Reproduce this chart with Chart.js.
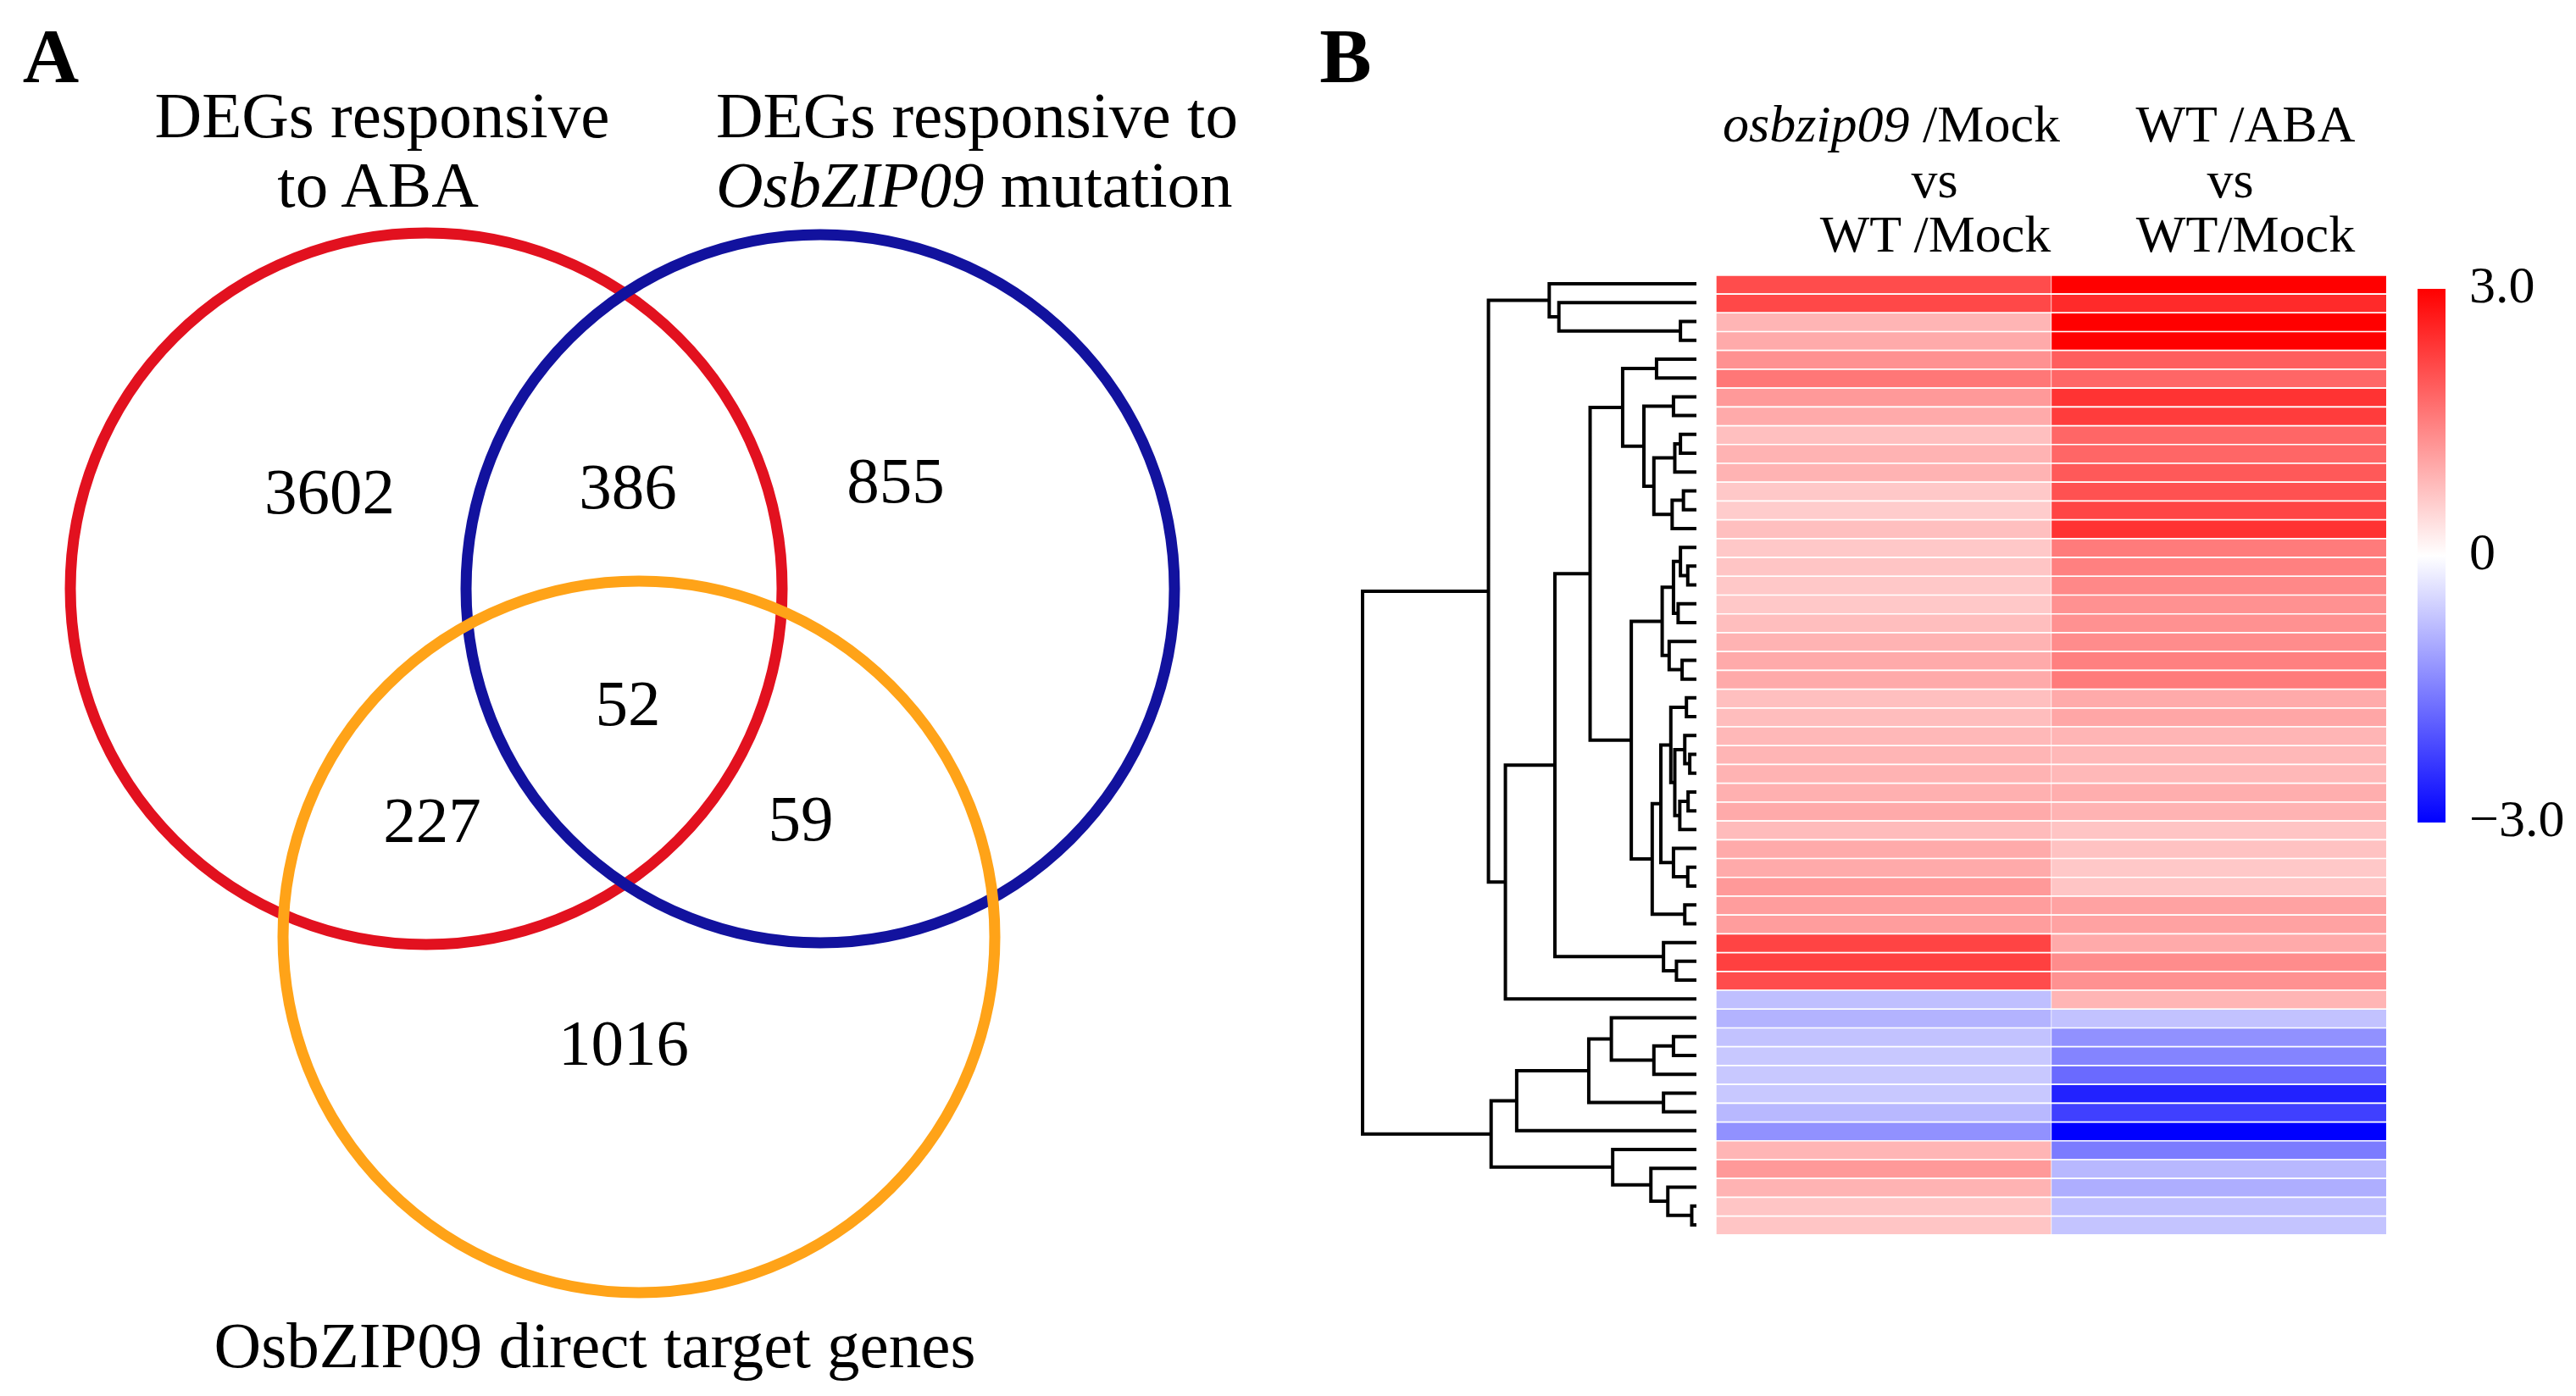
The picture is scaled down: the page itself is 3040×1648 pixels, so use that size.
<!DOCTYPE html>
<html>
<head>
<meta charset="utf-8">
<script src="https://cdn.jsdelivr.net/npm/chart.js@4.4.1/dist/chart.umd.min.js"></script>
<style>
  html, body { margin: 0; padding: 0; background: #fff; }
  #stage { position: relative; width: 3040px; height: 1648px; overflow: hidden; background: #fff;
           font-family: "Liberation Serif", "Times New Roman", serif; color: #000; }
  canvas { position: absolute; }
  .t { position: absolute; line-height: 1; white-space: nowrap; transform: translate(-50%, -50%); }
  .l { transform: translate(0, -50%); }
  .big { font-size: 77px; }
  .hdr { font-size: 62px; }
  .panel { font-size: 92px; font-weight: bold; }
</style>
</head>
<body>
<div id="stage">
  <canvas id="venn" width="1560" height="1648" style="left:0;top:0;width:1560px;height:1648px"></canvas>
  <canvas id="dendro" width="404" height="1133" style="left:1602px;top:324px;width:404px;height:1133px"></canvas>
  <canvas id="heat" width="791" height="1133" style="left:2025px;top:324px;width:791px;height:1133px"></canvas>
  <canvas id="legend" width="187" height="748" style="left:2853px;top:282px;width:187px;height:748px"></canvas>

  <div class="t panel" style="left:60px;top:66px">A</div>
  <div class="t panel" style="left:1588px;top:66px">B</div>

  <div class="t big" style="left:451px;top:136px">DEGs responsive</div>
  <div class="t big" style="left:446px;top:218px">to ABA</div>
  <div class="t l big" style="left:845px;top:136px">DEGs responsive to</div>
  <div class="t l big" style="left:845px;top:218px"><i>OsbZIP09</i> mutation</div>
  <div class="t big" style="left:702px;top:1588px">OsbZIP09 direct target genes</div>

  <div class="t hdr" style="left:2232px;top:146px"><i>osbzip09</i> /Mock</div>
  <div class="t hdr" style="left:2283px;top:212px">vs</div>
  <div class="t hdr" style="left:2284px;top:276px">WT /Mock</div>
  <div class="t hdr" style="left:2650px;top:146px">WT /ABA</div>
  <div class="t hdr" style="left:2632px;top:212px">vs</div>
  <div class="t hdr" style="left:2650px;top:276px">WT/Mock</div>
</div>

<script>
// ---------------- DATA ----------------
// Venn diagram: sets and region counts
const vennSets = ['DEGs responsive to ABA', 'DEGs responsive to OsbZIP09 mutation', 'OsbZIP09 direct target genes'];
const vennRegions = ['ABA only', 'ABA & mutation', 'mutation only', 'all three', 'ABA & targets', 'mutation & targets', 'targets only'];
const vennCounts = [3602, 386, 855, 52, 227, 59, 1016];

// Heatmap: log2 fold change per gene (rows, top to bottom) for each comparison
const heatColumns = ['osbzip09 /Mock vs WT /Mock', 'WT /ABA vs WT/Mock'];
const mutantVsWT = [
  2.1, 2.15, 0.87, 1.0, 1.3, 1.6, 1.2, 1.0, 0.75, 0.9,
  0.9, 0.65, 0.6, 0.75, 0.65, 0.68, 0.65, 0.65, 0.77, 0.9,
  1.0, 1.0, 0.75, 0.78, 0.83, 0.87, 0.9, 0.93, 1.0, 0.8,
  1.0, 1.0, 1.2, 1.15, 1.15, 2.2, 2.25, 2.1, -0.75, -0.9,
  -0.72, -0.65, -0.65, -0.65, -0.83, -1.3, 0.87, 1.2, 0.9, 0.68,
  0.68
];
const abaVsMock = [
  3.0, 2.5, 3.0, 3.0, 1.9, 1.8, 2.4, 2.3, 1.8, 1.8,
  1.95, 2.05, 2.2, 2.4, 1.55, 1.5, 1.4, 1.3, 1.3, 1.35,
  1.5, 1.55, 1.0, 1.05, 0.87, 0.83, 0.83, 0.95, 0.9, 0.7,
  0.72, 0.65, 0.68, 1.1, 1.1, 1.0, 1.35, 1.3, 0.87, -0.72,
  -1.3, -1.45, -1.75, -2.6, -2.25, -3.0, -1.55, -0.83, -0.95, -0.75,
  -0.7
];
// Colour scale range and legend ticks
const legendMin = -3, legendMax = 3;
const legendTicks = [-3, 0, 3];
const legendTickLabels = ['\u22123.0', '0', '3.0'];

// Row dendrogram: [mergeHeight, left, right]; leaves are row indices (0 = top row)
const dendrogramTree =
  [100,
    [62.1,
      [43.8, 0, [40.9, 1, [4.3, 2, 3]]],
      [57.0,
        [42.1,
          [31.5,
            [21.7,
              [11.5, 4, 5],
              [15.3,
                [6.4, 6, 7],
                [12.3, [6.0, [4.3, 8, 9], 10], [6.8, [3.4, 11, 12], 13]]]],
            [19.1,
              [9.8,
                [6.4, [4.3, 14, [2.1, 15, 16]], [5.0, 17, 18]],
                [7.7, 19, [3.8, 20, 21]]],
              [12.8,
                [10.2,
                  [7.2, [2.5, 22, 23], [6.0, [3.0, 24, [1.5, 25, 26]], [4.5, [2.0, 27, 28], 29]]],
                  [6.4, 30, [2.1, 31, 32]]],
                [3.0, 33, 34]]]],
          [9.4, 35, [5.5, 36, 37]]],
        38]],
    [61.3,
      [53.6,
        [31.9,
          [25.1, 39, [12.3, [6.4, 40, 41], 42]],
          [9.4, 43, 44]],
        45],
      [24.7, 46, [13.2, 47, [8.1, 48, [0.9, 49, 50]]]]]];

// ---------------- LAYOUT / STYLE (not data) ----------------
const vennCircleX = [503, 968, 754];
const vennCircleY = [695, 695, 1106];
const vennCircleR = [420, 418, 420];
const vennColors = ['#e2111f', '#12129e', '#ffa318'];
const vennCountX = [389, 741, 1057, 741, 510, 945, 736];
const vennCountY = [580, 574, 567, 830, 968, 966, 1231];
const countFontSize = 77;

const common = { responsive: false, animation: false, events: [],
  plugins: { legend: { display: false }, tooltip: { enabled: false } } };

// ---------------- VENN ----------------
const countLabels = {
  id: 'countLabels',
  afterDatasetsDraw(chart) {
    const { ctx, scales: { x, y } } = chart;
    ctx.save();
    ctx.font = countFontSize + 'px "Liberation Serif", serif';
    ctx.fillStyle = '#000';
    ctx.textAlign = 'center';
    ctx.textBaseline = 'alphabetic';
    vennCounts.forEach((c, i) => {
      ctx.fillText(String(c), x.getPixelForValue(vennCountX[i]), y.getPixelForValue(vennCountY[i]) + 0.338 * countFontSize);
    });
    ctx.restore();
  }
};

new Chart(document.getElementById('venn'), {
  type: 'scatter',
  data: {
    datasets: vennSets.map((name, i) => ({
      label: name,
      data: [{ x: vennCircleX[i], y: vennCircleY[i] }],
      pointRadius: (ctx) => {
        const s = ctx.chart.scales.x;
        return Math.abs(s.getPixelForValue(vennCircleR[i]) - s.getPixelForValue(0));
      },
      pointBorderWidth: 13,
      pointBorderColor: vennColors[i],
      pointBackgroundColor: 'rgba(0,0,0,0)',
      clip: false,
      order: [2, 1, 0][i]
    }))
  },
  options: Object.assign({}, common, {
    layout: { padding: 0 },
    scales: {
      x: { type: 'linear', min: 0, max: 1560, display: false },
      y: { type: 'linear', min: 0, max: 1648, reverse: true, display: false }
    }
  }),
  plugins: [countLabels]
});

// ---------------- HEATMAP ----------------
function heatColor(v) {
  const t = Math.max(-1, Math.min(1, v / legendMax));
  const k = Math.round(255 * (1 - Math.abs(t)));
  return t >= 0 ? `rgb(255,${k},${k})` : `rgb(${k},${k},255)`;
}
const heatValues = [mutantVsWT, abaVsMock];
const geneLabels = mutantVsWT.map((_, i) => 'Gene ' + (i + 1));

new Chart(document.getElementById('heat'), {
  type: 'bar',
  data: {
    labels: geneLabels,
    datasets: heatColumns.map((name, ci) => ({
      label: name,
      data: heatValues[ci].map(() => [ci, ci + 1]),
      backgroundColor: heatValues[ci].map(heatColor),
      borderColor: 'rgba(255,255,255,0.12)',
      borderWidth: { top: 2, bottom: 0, left: 1, right: 0 },
      borderSkipped: false,
      grouped: false,
      barPercentage: 1,
      categoryPercentage: 1
    }))
  },
  options: Object.assign({}, common, {
    indexAxis: 'y',
    layout: { padding: 0 },
    scales: {
      x: { type: 'linear', min: 0, max: heatColumns.length, display: false },
      y: { display: false }
    }
  })
});

// ---------------- DENDROGRAM ----------------
function buildSegments(node, pts) {
  if (typeof node === 'number') return { y: node, h: 0 };
  const [h, a, b] = node;
  const A = buildSegments(a, pts), B = buildSegments(b, pts);
  pts.push({ x: A.h, y: A.y }, { x: h, y: A.y }, { x: h, y: B.y }, { x: B.h, y: B.y }, { x: null, y: null });
  return { y: (A.y + B.y) / 2, h: h };
}
const dendroPts = [];
buildSegments(dendrogramTree, dendroPts);

new Chart(document.getElementById('dendro'), {
  type: 'scatter',
  data: {
    datasets: [{
      data: dendroPts,
      showLine: true,
      spanGaps: false,
      borderColor: '#000',
      borderWidth: 4,
      borderJoinStyle: 'miter',
      borderCapStyle: 'square',
      pointRadius: 0,
      clip: false
    }]
  },
  options: Object.assign({}, common, {
    layout: { padding: { left: 6, right: 6, top: 0, bottom: 0 } },
    scales: {
      x: { type: 'linear', min: 0, max: 100, reverse: true, display: false },
      y: { type: 'linear', min: -0.5, max: mutantVsWT.length - 0.5, reverse: true, display: false }
    }
  })
});

// ---------------- COLOUR LEGEND ----------------
new Chart(document.getElementById('legend'), {
  type: 'bar',
  data: {
    labels: ['log2FC'],
    datasets: [{
      data: [[legendMin, legendMax]],
      backgroundColor: (ctx) => {
        const ch = ctx.chart, a = ch.chartArea;
        if (!a) return '#fff';
        const g = ch.ctx.createLinearGradient(0, a.top, 0, a.bottom);
        g.addColorStop(0, heatColor(legendMax));
        g.addColorStop(0.5, heatColor(0));
        g.addColorStop(1, heatColor(legendMin));
        return g;
      },
      barPercentage: 1,
      categoryPercentage: 1
    }]
  },
  options: Object.assign({}, common, {
    layout: { padding: { top: 40, bottom: 40, left: 0, right: 0 } },
    scales: {
      x: { display: false },
      y: {
        position: 'right', min: legendMin, max: legendMax,
        grid: { display: false, drawTicks: false },
        border: { display: false },
        afterBuildTicks: (s) => { s.ticks = legendTicks.map(v => ({ value: v })); },
        afterFit: (s) => { s.width = 154; },
        ticks: {
          padding: 28, color: '#000',
          font: { family: '"Liberation Serif", serif', size: 62, lineHeight: 1 },
          callback: (v, i) => legendTickLabels[i]
        }
      }
    }
  })
});
</script>
</body>
</html>
